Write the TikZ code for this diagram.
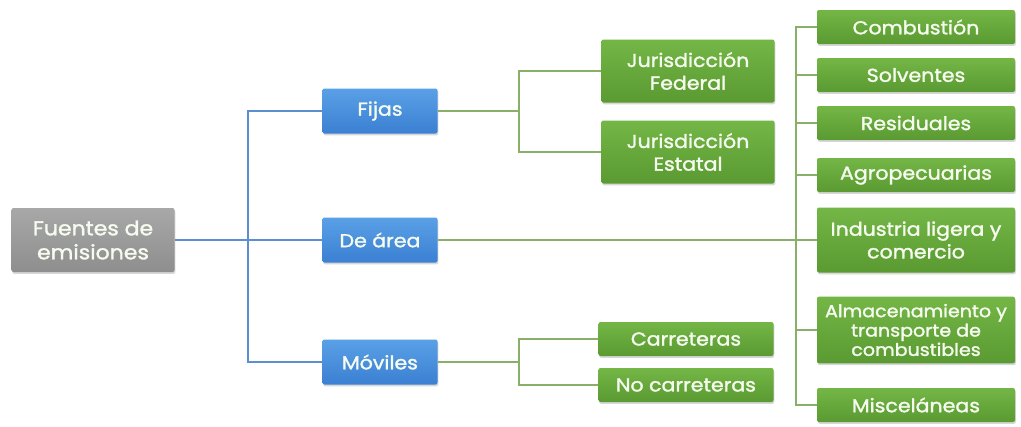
\documentclass[tikz,border=0pt]{standalone}
\usepackage{fontspec}
\newfontfamily\lbl{Poppins}[FakeStretch=1.1, FakeBold=1.6, AutoFakeBold=1.6]
\usetikzlibrary{shadows}
\definecolor{boxgreenT}{HTML}{74B646}
\definecolor{boxgreenB}{HTML}{5A9A32}
\definecolor{boxblueT}{HTML}{5AA0E6}
\definecolor{boxblueB}{HTML}{3B80D2}
\definecolor{boxgreyT}{HTML}{A8A8A8}
\definecolor{boxgreyB}{HTML}{8E8E8E}
\definecolor{linkblue}{HTML}{5B8FCF}
\definecolor{linkgreen}{HTML}{88B068}
\definecolor{labeltext}{HTML}{F6FBEF}
\tikzset{
  box/.style={rectangle, rounded corners=1.5pt, inner sep=0pt, align=center,
    text=labeltext, font=\lbl\bfseries\fontsize{14}{17}\selectfont,
    drop shadow={shadow xshift=0.6pt, shadow yshift=-1.4pt, opacity=0.22, fill=black!70}},
  rootbox/.style={box, top color=boxgreyT, bottom color=boxgreyB,
    minimum width=122.25pt, minimum height=48pt, font=\lbl\bfseries\fontsize{15}{18}\selectfont},
  midbox/.style={box, top color=boxblueT, bottom color=boxblueB,
    minimum width=86.25pt, minimum height=33.75pt},
  leafbox/.style={box, top color=boxgreenT, bottom color=boxgreenB},
  bluelink/.style={draw=linkblue, line width=1.6pt},
  greenlink/.style={draw=linkgreen, line width=1.8pt}
}
\begin{document}
\begin{tikzpicture}[x=0.75pt, y=-0.75pt]
  \useasboundingbox[fill=white] (0,0) rectangle (1021,426);

  % root and the three source types
  \node[rootbox] (fuentes) at (93,240) {Fuentes de\\emisiones};
  \node[midbox] (fijas) at (380,111) {Fijas};
  \node[midbox] (area)  at (380,240) {De área};
  \node[midbox] (moviles) at (380,362) {Móviles};

  % fixed sources
  \node[leafbox, minimum width=129.75pt, minimum height=47.25pt] (jfed) at (688,71) {Jurisdicción\\Federal};
  \node[leafbox, minimum width=129.75pt, minimum height=47.25pt] (jest) at (688,152) {Jurisdicción\\Estatal};

  % mobile sources
  \node[leafbox, minimum width=131.25pt, minimum height=25.5pt] (carr) at (686,339) {Carreteras};
  \node[leafbox, minimum width=131.25pt, minimum height=25.5pt] (nocarr) at (686,385) {No carreteras};

  % area sources
  \tikzset{areabox/.style={leafbox, minimum width=148.5pt, minimum height=25.5pt}}
  \node[areabox] (comb) at (916,27) {Combustión};
  \node[areabox] (solv) at (916,75) {Solventes};
  \node[areabox] (resid) at (916,123) {Residuales};
  \node[areabox] (agro) at (916,175) {Agropecuarias};
  \node[areabox, minimum height=48.75pt] (indus) at (916,240) {Industria ligera y\\comercio};
  \node[areabox, minimum height=50pt, font=\lbl\bfseries\fontsize{13}{14.5}\selectfont] (almac) at (916,330) {Almacenamiento y\\transporte de\\combustibles};
  \node[areabox] (misc) at (916,405) {Misceláneas};

  % junction points
  \coordinate (bj) at (248,240);
  \coordinate (fj) at (519,111);
  \coordinate (mj) at (519,362);
  \coordinate (aj) at (796,240);

  % blue links
  \draw[bluelink] (fuentes.east) -- (bj);
  \draw[bluelink] (bj) |- (fijas.west);
  \draw[bluelink] (bj) |- (moviles.west);
  \draw[bluelink] (bj) -- (area.west);

  % green links
  \draw[greenlink] (fijas.east) -- (fj);
  \draw[greenlink] (fj) |- (jfed.west);
  \draw[greenlink] (fj) |- (jest.west);
  \draw[greenlink] (moviles.east) -- (mj);
  \draw[greenlink] (mj) |- (carr.west);
  \draw[greenlink] (mj) |- (nocarr.west);
  \draw[greenlink] (area.east) -- (aj);
  \foreach \t in {comb,solv,resid,agro,indus,almac,misc}
    \draw[greenlink] (aj) |- (\t.west);
\end{tikzpicture}
\end{document}
